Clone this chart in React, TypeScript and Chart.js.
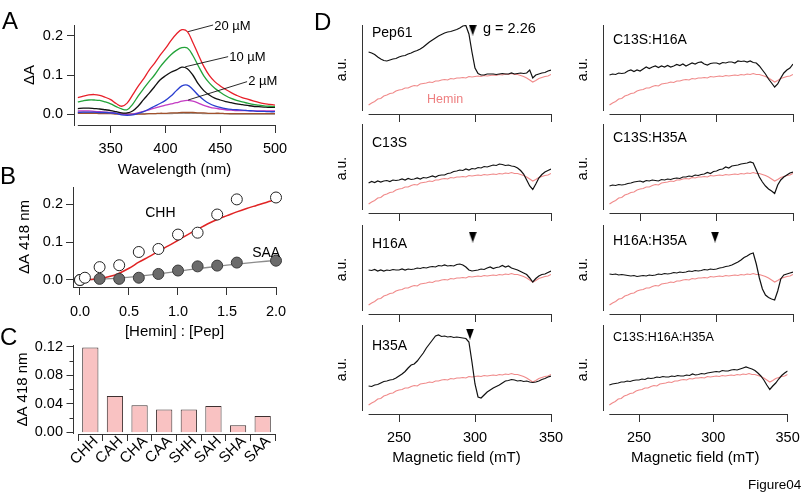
import React, { useEffect, useRef } from "react";
import { Chart, registerables } from "chart.js";

// ============================ DATA ============================
// Panel A: difference spectra (ΔA) vs wavelength
const WAVELENGTH_NM = [320, 325, 330, 335, 340, 345, 350, 355, 360, 365, 370, 375, 380, 385, 390, 395, 400, 405, 410, 415, 420, 425, 430, 435, 440, 445, 450, 455, 460, 465, 470, 475, 480, 485, 490, 495, 500];
const SPEC_20UM = [0.042, 0.046, 0.049, 0.05, 0.048, 0.043, 0.037, 0.027, 0.02, 0.028, 0.049, 0.071, 0.09, 0.112, 0.13, 0.15, 0.168, 0.188, 0.205, 0.216, 0.211, 0.183, 0.152, 0.122, 0.099, 0.083, 0.072, 0.063, 0.055, 0.048, 0.042, 0.038, 0.034, 0.03, 0.027, 0.025, 0.023];
const SPEC_GREEN = [0.031, 0.034, 0.036, 0.036, 0.035, 0.031, 0.026, 0.019, 0.013, 0.011, 0.025, 0.046, 0.065, 0.083, 0.1, 0.12, 0.137, 0.152, 0.163, 0.17, 0.169, 0.15, 0.123, 0.098, 0.08, 0.066, 0.056, 0.047, 0.04, 0.035, 0.031, 0.028, 0.025, 0.023, 0.021, 0.02, 0.019];
const SPEC_10UM = [0.014, 0.015, 0.015, 0.014, 0.013, 0.011, 0.009, 0.006, 0.003, 0.003, 0.008, 0.02, 0.037, 0.053, 0.07, 0.087, 0.098, 0.107, 0.113, 0.12, 0.116, 0.1, 0.077, 0.06, 0.049, 0.041, 0.036, 0.032, 0.029, 0.026, 0.024, 0.022, 0.02, 0.019, 0.018, 0.017, 0.017];
const SPEC_BLUE = [0.004, 0.005, 0.005, 0.005, 0.004, 0.004, 0.003, 0.002, -0.002, -0.003, -0.002, 0.002, 0.006, 0.013, 0.02, 0.027, 0.035, 0.046, 0.06, 0.072, 0.074, 0.063, 0.048, 0.036, 0.027, 0.021, 0.017, 0.014, 0.012, 0.011, 0.01, 0.009, 0.008, 0.007, 0.007, 0.006, 0.006];
const SPEC_2UM = [0.008, 0.008, 0.008, 0.007, 0.006, 0.005, 0.004, 0.002, 0.0, -0.001, 0.0, 0.003, 0.007, 0.011, 0.015, 0.019, 0.023, 0.026, 0.029, 0.033, 0.035, 0.033, 0.028, 0.022, 0.018, 0.015, 0.013, 0.011, 0.01, 0.009, 0.009, 0.009, 0.008, 0.008, 0.008, 0.008, 0.008];
const SPEC_BROWN = [0.002, 0.002, 0.002, 0.002, 0.001, 0.001, 0.001, 0.0, 0.0, -0.001, -0.001, 0.0, 0.0, 0.001, 0.001, 0.002, 0.002, 0.003, 0.003, 0.004, 0.004, 0.004, 0.003, 0.003, 0.002, 0.002, 0.002, 0.001, 0.001, 0.001, 0.001, 0.001, 0.001, 0.001, 0.001, 0.001, 0.001];
const SPEC_GRAY = [0.005, 0.005, 0.004, 0.004, 0.004, 0.003, 0.003, 0.002, 0.001, 0.001, 0.001, 0.001, 0.001, 0.001, 0.001, 0.001, 0.001, 0.001, 0.002, 0.002, 0.002, 0.002, 0.002, 0.001, 0.001, 0.001, 0.001, 0.001, 0.0, 0.0, 0.0, 0.0, 0.0, 0.0, 0.0, 0.0, 0.0];
const WAVELENGTH_TICKS = [350, 400, 450, 500];
const DA_TICKS_A = [0, 0.1, 0.2];

// Panel B: titration
const RATIO_CHH = [0, 0.05, 0.2, 0.4, 0.6, 0.8, 1.0, 1.2, 1.4, 1.6, 2.0];
const DA_CHH = [0.0, 0.006, 0.034, 0.039, 0.074, 0.082, 0.12, 0.125, 0.173, 0.213, 0.218];
const RATIO_SAA = [0, 0.2, 0.4, 0.6, 0.8, 1.0, 1.2, 1.4, 1.6, 2.0];
const DA_SAA = [0.0, 0.003, 0.003, 0.006, 0.016, 0.025, 0.036, 0.038, 0.046, 0.051];
const FIT_RATIO_CHH = [0.05, 0.1, 0.2, 0.3, 0.4, 0.5, 0.6, 0.7, 0.8, 0.9, 1.0, 1.1, 1.2, 1.3, 1.4, 1.5, 1.6, 1.7, 1.8, 1.9, 2.0];
const FIT_CHH = [0.0, 0.001, 0.004, 0.009, 0.018, 0.031, 0.047, 0.061, 0.076, 0.09, 0.105, 0.12, 0.134, 0.148, 0.16, 0.17, 0.18, 0.189, 0.197, 0.205, 0.212];
const FIT_RATIO_SAA = [0, 0.2, 0.4, 0.6, 0.8, 1.0, 1.2, 1.4, 1.6, 1.8, 2.0];
const FIT_SAA = [0.0, 0.002, 0.005, 0.01, 0.016, 0.023, 0.03, 0.036, 0.042, 0.047, 0.052];
const RATIO_TICKS = [0, 0.5, 1.0, 1.5, 2.0];
const DA_TICKS_B = [0, 0.1, 0.2];

// Panel C: variants
const VARIANTS = ["CHH", "CAH", "CHA", "CAA", "SHH", "SAH", "SHA", "SAA"];
const DA418_VARIANTS = [0.119, 0.051, 0.038, 0.032, 0.032, 0.037, 0.01, 0.023];
const DA_TICKS_C = [0, 0.04, 0.08, 0.12];
const DA_MINOR_C = [0.02, 0.06, 0.1];

// Panel D: EPR spectra (a.u.)
const FIELD_MT = [230, 232, 234, 236, 238, 240, 242, 244, 246, 248,
  250, 252, 254, 256, 258, 260, 262, 264, 266, 268,
  270, 272, 274, 276, 278, 280, 282, 284, 286, 288,
  290, 292, 294, 296, 298, 300, 302, 304, 306, 308,
  310, 312, 314, 316, 318, 320, 322, 324, 326, 328,
  330, 332, 334, 336, 338, 340, 342, 344, 346, 348,
  350];
const HEMIN_AU = [9, 11, 12.5, 15, 15.5, 18, 19, 20.5, 21, 23,
  24, 24.5, 26, 26, 27.5, 28.5, 28, 30, 30.5, 31,
  32, 31.5, 33, 33, 34, 34.5, 34, 35.5, 35, 36,
  36, 36.5, 36, 37.5, 37, 37.5, 38, 37.5, 38.5, 38,
  38.5, 39, 38.5, 39.5, 39, 40, 39.5, 40.5, 39.5, 39.5,
  38.5, 37.5, 36, 34, 32, 33.5, 35.5, 36.5, 37.5, 38,
  39.5];
const PEP61_AU = [62, 61, 59.5, 57, 55, 53.5, 53, 54, 55, 55.5,
  57, 58, 58.5, 60, 61, 62.5, 63.5, 65, 67, 69.5,
  72, 74, 76, 78, 79.5, 81, 82, 82.5, 83.5, 84.5,
  86, 88, 88.5, 80, 62, 46, 40.5, 39, 39, 40,
  40, 40, 39.5, 40, 40.5, 40, 40, 41, 40, 40.5,
  41, 40.5, 41, 44, 36, 39, 40, 41, 41.5, 43,
  44];
const C13S_AU = [30, 31.5, 30.5, 32, 31, 32, 32.5, 31.5, 33, 32.5,
  33, 34, 33, 34.5, 33.5, 34, 35, 34, 35.5, 35,
  36, 37, 36, 37.5, 38, 38, 39.5, 40, 41.5, 42,
  43, 42.5, 44, 43, 44.5, 44, 45.5, 45, 46.5, 46,
  47, 48, 47.5, 49, 48.5, 47.5, 48, 47, 46.5, 45,
  42.5, 39, 33, 27, 23.5, 29, 35, 38.5, 41, 42.5,
  44];
const H16A_AU = [44, 43.5, 44.5, 43, 44, 43, 44, 43.5, 44.5, 44,
  44, 45, 44, 45, 44.5, 45, 46, 45.5, 46.5, 46,
  47, 47.5, 47, 48.5, 48, 49, 48, 48.5, 48, 49.5,
  50, 49, 47, 44, 43, 43.5, 44, 45, 44.5, 46,
  47, 45.5, 46.5, 47, 48.5, 47, 48, 46, 45, 44,
  42.5, 41, 39.5, 36, 32, 35.5, 38, 39.5, 40, 41.5,
  43];
const H35A_AU = [28, 27.5, 29, 29.5, 31, 32.5, 33, 34, 34.5, 36,
  38, 40, 42.5, 46, 49, 50, 53, 57, 61, 66,
  70, 74, 78, 79, 77.5, 78, 77, 77.5, 76.5, 77,
  76.5, 76, 75.5, 72, 52, 30, 17, 16, 19, 22,
  24, 26, 27.5, 29, 31, 33, 33.5, 34.5, 34, 33,
  33.5, 32.5, 33, 32, 31.5, 32, 33, 34.5, 35.5, 37,
  38];
const C13S_H16A_AU = [39, 40, 39.5, 41, 40.5, 41, 43, 44, 42.5, 44,
  43, 45, 47, 45.5, 47, 48, 46.5, 48, 47, 48.5,
  47, 48, 49.5, 48.5, 50, 48, 49.5, 51, 50, 51.5,
  52, 50, 49, 50.5, 51, 51, 50, 51.5, 51, 52,
  52, 51, 53, 52.5, 53, 52, 53, 51.5, 51, 48,
  44, 40, 35, 31, 27, 30, 36, 41, 44, 46,
  50];
const C13S_H35A_AU = [27, 28, 27.5, 28.5, 28, 28.5, 29.5, 30, 31, 31.5,
  32, 31, 32.5, 32, 33, 32.5, 32, 33.5, 33, 34,
  33.5, 34.5, 35, 34.5, 36, 36, 37, 36.5, 38, 37.5,
  38.5, 39, 40.5, 39.5, 41.5, 42, 43.5, 44, 46, 45,
  47, 47.5, 48, 49, 49.5, 50, 51, 50, 43, 36,
  31, 27, 24, 22, 19.5, 28, 33, 36, 38, 40,
  41];
const H16A_H35A_AU = [40, 39.5, 40, 39, 39.5, 39, 38.5, 38, 38.5, 37.5,
  38, 38.5, 38, 39, 38.5, 39, 40, 39.5, 40.5, 40,
  40.5, 41.5, 41, 42, 41.5, 42, 43, 42.5, 43.5, 43,
  43.5, 44.5, 44, 45, 44.5, 45, 46, 46.5, 47.5, 48,
  49, 50.5, 52, 54, 56.5, 58, 60, 61, 50, 36,
  25, 19, 16.5, 15, 14, 23, 35, 39, 40, 41,
  42];
const C13S_H16A_H35A_AU = [29, 30, 30.5, 31, 32, 32, 33, 32.5, 33.5, 34,
  34, 35, 34.5, 36, 35.5, 36, 37, 36.5, 37.5, 37,
  37, 38, 37.5, 38.5, 38, 38, 39, 38.5, 40, 39,
  39.5, 40.5, 40, 41, 41.5, 42, 42.5, 42, 43.5, 43,
  43, 44, 44.5, 44, 45, 46, 47, 46, 45, 43.5,
  41, 38, 34, 29, 24.5, 28, 31, 35, 38.5, 41,
  43];
const FIELD_TICKS = [250, 300, 350];

// ============================ STYLE / LAYOUT ============================
const W = 807;
const H = 500;
const FF = "'Liberation Sans', Arial, Helvetica, sans-serif";
const AXIS_COLOR = "#333333";
const PINK = "#f08a8a";
const TICK_FONT = { family: FF, size: 14.5 };
const TITLE_FONT = { family: FF, size: 15 };

Chart.register(...registerables);

const align = (p: number) => Math.round(p - 0.5) + 0.5;

const igorPlugin = {
  id: "igor",
  afterDraw(chart: any, _args: any, o: any) {
    if (!o || !o.on) return;
    const { ctx, chartArea: ca, scales } = chart;
    const xs = scales.x;
    const ys = scales.y;
    ctx.save();
    ctx.strokeStyle = AXIS_COLOR;
    ctx.lineWidth = 1;
    if (o.xLine) {
      const y = align(ca.bottom);
      const x0 = o.xLine === "full" ? ca.left : xs.getPixelForValue(o.xLine[0]);
      const x1 = o.xLine === "full" ? ca.right : xs.getPixelForValue(o.xLine[1]);
      ctx.beginPath();
      ctx.moveTo(x0, y);
      ctx.lineTo(x1, y);
      ctx.stroke();
    }
    if (o.yLine) {
      const x = align(ca.left - (o.yLine.dx || 0));
      ctx.beginPath();
      ctx.moveTo(x, ca.top);
      ctx.lineTo(x, ca.bottom - (o.yLine.bottomGap || 0));
      ctx.stroke();
      const tks = o.yLine.ticks || [];
      for (let i = 0; i < tks.length; i++) {
        const py = align(ys.getPixelForValue(tks[i].v));
        ctx.beginPath();
        ctx.moveTo(x, py);
        ctx.lineTo(x - tks[i].len, py);
        ctx.stroke();
      }
    }
    if (o.leaders) {
      ctx.strokeStyle = "#111";
      ctx.lineWidth = 0.9;
      for (let i = 0; i < o.leaders.length; i++) {
        const l = o.leaders[i];
        ctx.beginPath();
        ctx.moveTo(xs.getPixelForValue(l[0]), ys.getPixelForValue(l[1]));
        ctx.lineTo(xs.getPixelForValue(l[2]), ys.getPixelForValue(l[3]));
        ctx.stroke();
      }
    }
    if (o.catLabels) {
      const labels = chart.data.labels;
      ctx.fillStyle = "#000";
      ctx.font = `${o.catLabels.size}px ${FF}`;
      ctx.textAlign = "right";
      ctx.textBaseline = "middle";
      for (let i = 0; i < labels.length; i++) {
        const x = xs.getPixelForValue(i) + o.catLabels.dx;
        const y = ca.bottom + o.catLabels.dy;
        ctx.save();
        ctx.translate(x, y);
        ctx.rotate(-Math.PI / 4);
        ctx.fillText(labels[i], 0, 0);
        ctx.restore();
      }
    }
    if (o.texts) {
      for (let i = 0; i < o.texts.length; i++) {
        const t = o.texts[i];
        ctx.font = `${t.size}px ${FF}`;
        ctx.fillStyle = t.color || "#000";
        ctx.textAlign = t.align || "left";
        ctx.textBaseline = "middle";
        const px = t.px ? ca.left + t.x : xs.getPixelForValue(t.x);
        const py = t.px ? ca.top + t.y : ys.getPixelForValue(t.y);
        ctx.fillText(t.text, px, py);
      }
    }
    ctx.restore();
  },
};
Chart.register(igorPlugin);

type Area = { l: number; t: number; r: number; b: number };

function baseOptions(area: Area, yW: number, xH: number, igor: any) {
  return {
    responsive: false,
    maintainAspectRatio: false,
    animation: false,
    devicePixelRatio: 1,
    events: [],
    layout: { padding: { left: area.l - yW, top: area.t, right: W - area.r, bottom: H - area.b - xH } },
    plugins: { legend: { display: false }, tooltip: { enabled: false }, title: { display: false }, igor: { on: true, ...igor } },
  };
}

function xLinear(p: any) {
  return {
    type: "linear",
    min: p.min,
    max: p.max,
    afterFit: (s: any) => { s.height = p.xH; },
    afterBuildTicks: (s: any) => { s.ticks = p.ticks.map((v: number) => ({ value: v })); },
    grid: { display: true, drawOnChartArea: false, drawTicks: true, tickLength: p.tickLen ?? 8, color: AXIS_COLOR, lineWidth: 1 },
    border: { display: false },
    ticks: { display: p.showLabels !== false, autoSkip: false, maxRotation: 0, minRotation: 0, padding: p.tickPad ?? 7, color: "#000", font: TICK_FONT, callback: p.fmt },
    title: { display: !!p.title, text: p.title || "", color: "#000", font: TITLE_FONT, padding: 0 },
  };
}

function yLinear(p: any) {
  return {
    type: "linear",
    min: p.min,
    max: p.max,
    afterFit: (s: any) => { s.width = p.yW; },
    afterBuildTicks: (s: any) => { s.ticks = p.ticks.map((v: number) => ({ value: v })); },
    grid: { display: p.gridTicks !== false, drawOnChartArea: false, drawTicks: p.gridTicks !== false, tickLength: p.gridTicks !== false ? 7 : 0, color: AXIS_COLOR, lineWidth: 1 },
    border: { display: p.border !== false, color: AXIS_COLOR, width: 1 },
    ticks: { display: p.showLabels !== false, autoSkip: false, padding: p.tickPad ?? 4, color: "#000", font: TICK_FONT, callback: p.fmt },
    title: { display: !!p.title, text: p.title || "", color: "#000", font: p.titleFont || TITLE_FONT, padding: 0 },
  };
}

const pts = (xs: number[], ys: number[]) => xs.map((x, i) => ({ x, y: ys[i] }));

// ---------------- Panel A ----------------
function configA() {
  const area = { l: 74, t: 25, r: 275, b: 125 };
  const series = [
    { v: SPEC_20UM, c: "#e8202a" },
    { v: SPEC_GREEN, c: "#23a33a" },
    { v: SPEC_10UM, c: "#111111" },
    { v: SPEC_BLUE, c: "#2a3fd0" },
    { v: SPEC_2UM, c: "#c43cc4" },
    { v: SPEC_BROWN, c: "#a0522d" },
    { v: SPEC_GRAY, c: "#9a9a9a" },
  ];
  return {
    type: "line",
    data: {
      datasets: series.map((s) => ({ data: pts(WAVELENGTH_NM, s.v), borderColor: s.c, borderWidth: 1.3, pointRadius: 0, tension: 0.35 })),
    },
    options: {
      ...baseOptions(area, 53, 54, {
        xLine: [320, 500],
        leaders: [[420.7, 0.211, 443.5, 0.228], [418, 0.121, 457.2, 0.147], [420.7, 0.036, 474.5, 0.083]],
        texts: [
          { text: "20 µM", x: 444.5, y: 0.225, size: 13 },
          { text: "10 µM", x: 458.2, y: 0.145, size: 13 },
          { text: "2 µM", x: 475.5, y: 0.083, size: 13 },
        ],
      }),
      scales: {
        x: xLinear({ min: 316.5, max: 500, ticks: WAVELENGTH_TICKS, xH: 54, tickPad: 7, title: "Wavelength (nm)", fmt: (v: number) => String(v) }),
        y: yLinear({ min: -0.028, max: 0.228, ticks: DA_TICKS_A, yW: 53, tickPad: 4, title: "ΔA", fmt: (v: number) => v.toFixed(1) }),
      },
    },
  };
}

// ---------------- Panel B ----------------
function configB() {
  const area = { l: 73, t: 187, r: 276, b: 287 };
  return {
    type: "scatter",
    data: {
      datasets: [
        { data: pts(RATIO_CHH, DA_CHH), pointRadius: 5.5, pointBackgroundColor: "#ffffff", pointBorderColor: "#222", pointBorderWidth: 1, clip: false },
        { data: pts(RATIO_SAA, DA_SAA), pointRadius: 5.5, pointBackgroundColor: "#6b6b6b", pointBorderColor: "#3a3a3a", pointBorderWidth: 1, clip: false },
        { data: pts(FIT_RATIO_CHH, FIT_CHH), showLine: true, pointRadius: 0, borderColor: "#e02424", borderWidth: 1.5, tension: 0.3, clip: false },
        { data: pts(FIT_RATIO_SAA, FIT_SAA), showLine: true, pointRadius: 0, borderColor: "#8c8c8c", borderWidth: 1.3, tension: 0.3, clip: false },
      ],
    },
    options: {
      ...baseOptions(area, 57, 53.7, {
        xLine: "full",
        texts: [
          { text: "CHH", x: 0.82, y: 0.177, size: 14, align: "center" },
          { text: "SAA", x: 1.9, y: 0.07, size: 14, align: "center" },
        ],
      }),
      scales: {
        x: xLinear({ min: -0.0714, max: 2.0, ticks: RATIO_TICKS, xH: 53.7, tickPad: 8, title: "[Hemin] : [Pep]", fmt: (v: number) => v.toFixed(1) }),
        y: yLinear({ min: -0.0185, max: 0.2457, ticks: DA_TICKS_B, yW: 57, tickPad: 3, title: "ΔA 418 nm", fmt: (v: number) => v.toFixed(1) }),
      },
    },
  };
}

// ---------------- Panel C ----------------
function configC() {
  const area = { l: 78, t: 345, r: 275, b: 434 };
  const yTicks = DA_TICKS_C.map((v) => ({ v, len: 7 })).concat(DA_MINOR_C.map((v) => ({ v, len: 4 })));
  return {
    type: "bar",
    data: {
      labels: VARIANTS,
      datasets: [{ data: DA418_VARIANTS, backgroundColor: "#f9c2c2", borderColor: "#3d3030", borderWidth: 1, barPercentage: 0.66, categoryPercentage: 1.0 }],
    },
    options: {
      ...baseOptions(area, 64.5, 50, {
        xLine: "full",
        yLine: { dx: 5, ticks: yTicks },
        catLabels: { dx: 5.5, dy: 5, size: 15 },
      }),
      scales: {
        x: {
          type: "category",
          offset: true,
          afterFit: (s: any) => { s.height = 50; },
          grid: { display: true, offset: true, drawOnChartArea: false, drawTicks: true, tickLength: 7, color: AXIS_COLOR, lineWidth: 1 },
          border: { display: false },
          ticks: { display: false },
        },
        y: yLinear({ min: -0.0024, max: 0.1225, ticks: DA_TICKS_C, yW: 64.5, tickPad: 15, gridTicks: false, border: false, title: "ΔA 418 nm", fmt: (v: number) => v.toFixed(2) }),
      },
    },
  };
}

// ---------------- Panel D ----------------
const D_COLS = [
  { left: 362, x230: 368.6, right: 551, yW: 28.7, labelDx: 10 },
  { left: 603, x230: 609.5, right: 793, yW: 28.4, labelDx: 10 },
];
const D_ROW_BOTTOMS = [114, 213, 314, 414];
const D_ROW_HEIGHT = 89;

let arrowImg: HTMLCanvasElement | null = null;
function getArrow() {
  if (arrowImg) return arrowImg;
  const c = document.createElement("canvas");
  c.width = 8;
  c.height = 11;
  const g = c.getContext("2d")!;
  g.fillStyle = "#000";
  g.beginPath();
  g.moveTo(0, 0);
  g.lineTo(8, 0);
  g.lineTo(4, 11);
  g.closePath();
  g.fill();
  arrowImg = c;
  return c;
}

const EPR_PANELS = [
  { col: 0, row: 0, label: "Pep61", trace: PEP61_AU, labelDy: 8.5, labelSize: 14, arrow: [298.5, 84], pep: true },
  { col: 0, row: 1, label: "C13S", trace: C13S_AU, labelDy: 19, labelSize: 14 },
  { col: 0, row: 2, label: "H16A", trace: H16A_AU, labelDy: 19.5, labelSize: 14, arrow: [298.5, 77] },
  { col: 0, row: 3, label: "H35A", trace: H35A_AU, labelDy: 21, labelSize: 14, arrow: [296.7, 80] },
  { col: 1, row: 0, label: "C13S:H16A", trace: C13S_H16A_AU, labelDy: 15, labelSize: 14 },
  { col: 1, row: 1, label: "C13S:H35A", trace: C13S_H35A_AU, labelDy: 14, labelSize: 14 },
  { col: 1, row: 2, label: "H16A:H35A", trace: H16A_H35A_AU, labelDy: 16.5, labelSize: 14, arrow: [299, 77] },
  { col: 1, row: 3, label: "C13S:H16A:H35A", trace: C13S_H16A_H35A_AU, labelDy: 13, labelSize: 12.5 },
];

function configD(p: any) {
  const col = D_COLS[p.col];
  const bottom = D_ROW_BOTTOMS[p.row];
  const area = { l: col.left, t: bottom - D_ROW_HEIGHT, r: col.right, b: bottom };
  const k = (col.right - col.x230) / 120;
  const xmin = 230 - (col.x230 - col.left) / k;
  const last = p.row === 3;
  const xH = last ? 53.3 : 12;
  const datasets: any[] = [];
  if (p.arrow) {
    datasets.push({ data: [{ x: p.arrow[0], y: p.arrow[1] }], showLine: false, pointStyle: getArrow(), pointRadius: 6, clip: false });
  }
  datasets.push({ data: pts(FIELD_MT, p.trace), borderColor: "#111111", borderWidth: 1.2, pointRadius: 0 });
  datasets.push({ data: pts(FIELD_MT, HEMIN_AU), borderColor: PINK, borderWidth: 1.1, pointRadius: 0 });
  const texts: any[] = [{ text: p.label, x: col.labelDx, y: p.labelDy, size: p.labelSize, px: true }];
  if (p.pep) {
    texts.push({ text: "g = 2.26", x: 121, y: 3.5, size: 14.5, px: true });
    texts.push({ text: "Hemin", x: 65, y: 75, size: 12.5, color: "#ee7f80", px: true });
  }
  return {
    type: "line",
    data: { datasets },
    options: {
      ...baseOptions(area, col.yW, xH, {
        xLine: [230, 350],
        yLine: { dx: 0, bottomGap: 3 },
        texts,
      }),
      scales: {
        x: xLinear({ min: xmin, max: 350, ticks: FIELD_TICKS, xH, tickPad: 7.3, showLabels: last, title: last ? "Magnetic field (mT)" : "", fmt: (v: number) => String(v) }),
        y: yLinear({ min: 0, max: D_ROW_HEIGHT, ticks: [], yW: col.yW, showLabels: false, gridTicks: false, border: false, title: "a.u.", titleFont: { family: FF, size: 14 }, fmt: (v: number) => String(v) }),
      },
    },
  };
}

// ============================ COMPONENTS ============================
function ChartLayer({ make }: { make: () => any }) {
  const ref = useRef<HTMLCanvasElement | null>(null);
  useEffect(() => {
    if (!ref.current) return;
    const chart = new Chart(ref.current, make());
    return () => chart.destroy();
  }, []);
  return (
    <canvas
      ref={ref}
      width={W}
      height={H}
      style={{ position: "absolute", left: 0, top: 0, width: W + "px", height: H + "px", pointerEvents: "none" }}
    />
  );
}

const letterStyle = (left: number, top: number): React.CSSProperties => ({
  position: "absolute",
  left,
  top,
  fontFamily: FF,
  fontSize: 24,
  lineHeight: "24px",
  color: "#000",
});

export default function App() {
  return (
    <div style={{ position: "absolute", left: 0, top: 0, width: W, height: H, background: "#ffffff", overflow: "hidden" }}>
      <ChartLayer make={configA} />
      <ChartLayer make={configB} />
      <ChartLayer make={configC} />
      {EPR_PANELS.map((p, i) => (
        <ChartLayer key={i} make={() => configD(p)} />
      ))}
      <div style={letterStyle(2, 9)}>A</div>
      <div style={letterStyle(0, 164)}>B</div>
      <div style={letterStyle(0, 325)}>C</div>
      <div style={letterStyle(314, 10)}>D</div>
      <div style={{ position: "absolute", left: 748, top: 477, fontFamily: FF, fontSize: 13.5, lineHeight: "16px", color: "#000" }}>Figure04</div>
    </div>
  );
}
